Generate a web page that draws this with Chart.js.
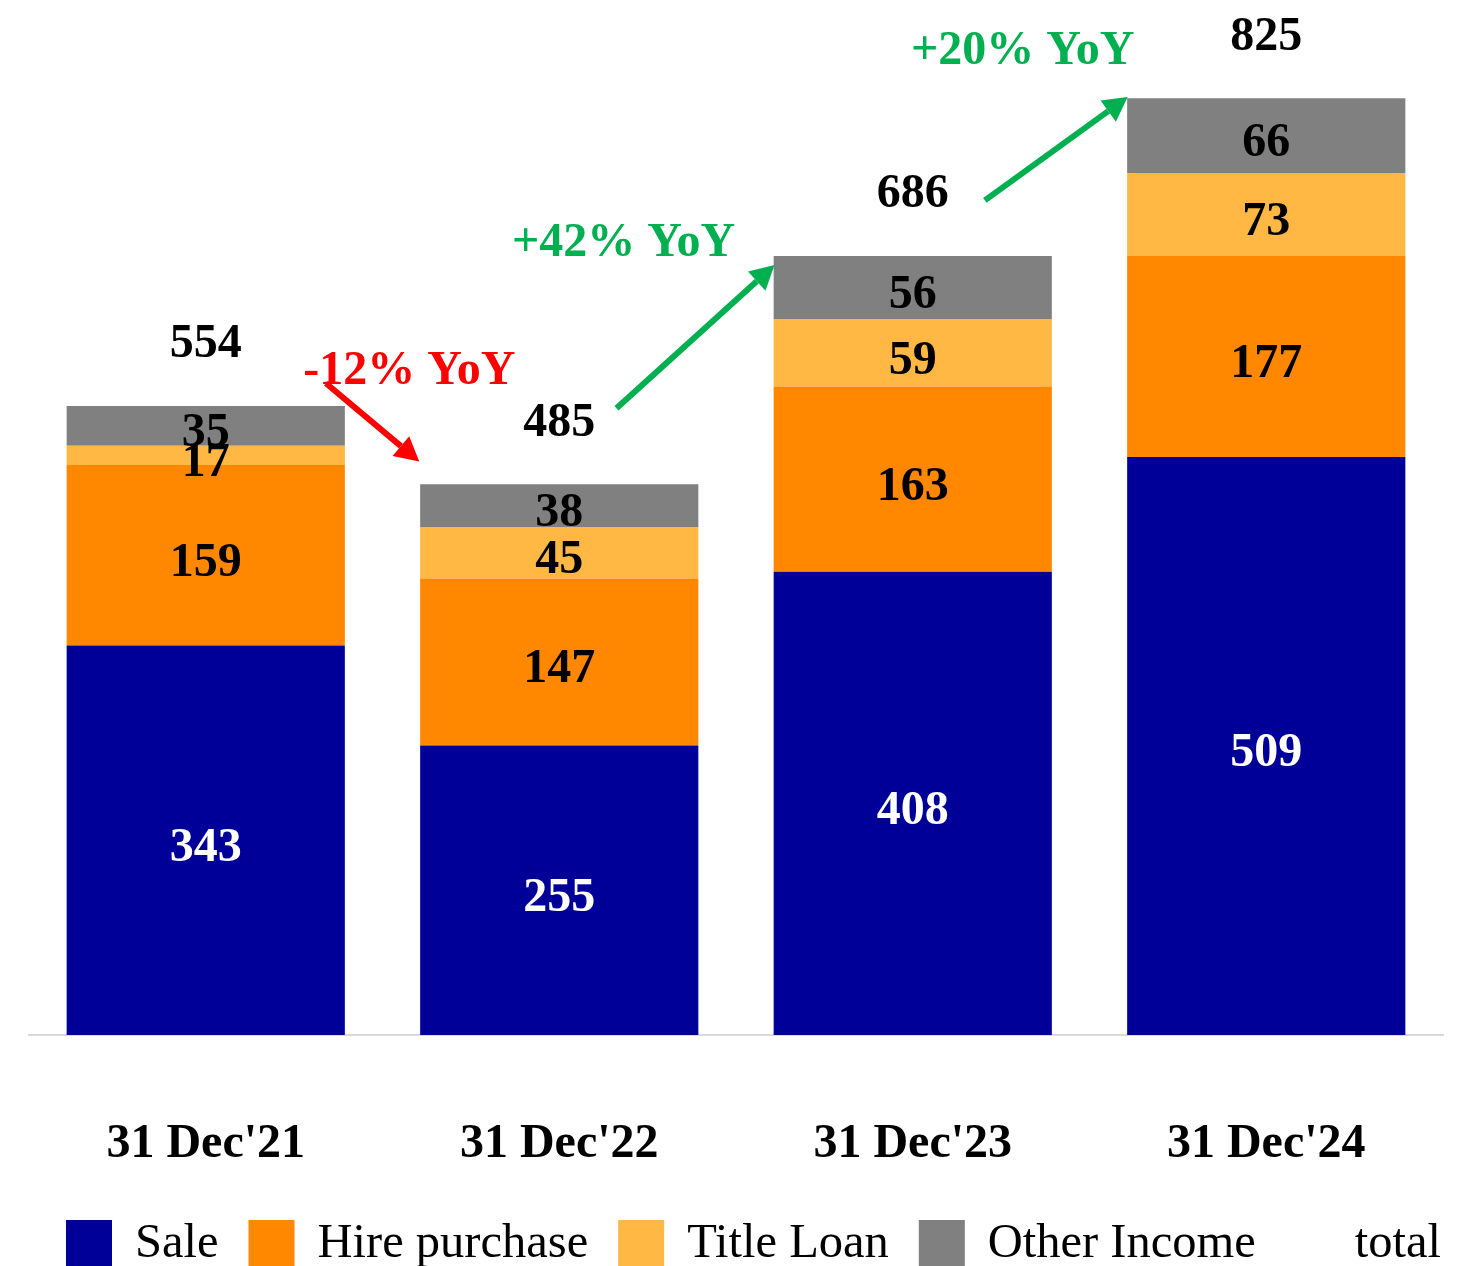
<!DOCTYPE html>
<html>
<head>
<meta charset="utf-8">
<title>Revenue by segment</title>
<script src="https://cdn.jsdelivr.net/npm/chart.js@4.4.1/dist/chart.umd.min.js"></script>
<style>
	html, body { margin: 0; padding: 0; background: #fff; }
	#wrap { width: 1471px; height: 1266px; }
</style>
</head>
<body>
<div id="wrap"><canvas id="graph-revenue" width="1471" height="1266"></canvas></div>
<script>
// ** DATA: ** //

var categories = ["31 Dec'21", "31 Dec'22", "31 Dec'23", "31 Dec'24"];
var sale = [343, 255, 408, 509];
var hirePurchase = [159, 147, 163, 177];
var titleLoan = [17, 45, 59, 73];
var otherIncome = [35, 38, 56, 66];

var seriesNames = ['Sale', 'Hire purchase', 'Title Loan', 'Other Income'];
var seriesColors = ['#000099', '#FF8800', '#FFB843', '#808080'];
var labelColors = ['#FFFFFF', '#000000', '#000000', '#000000'];

// growth callouts, points given as [category position, value]
var yoyText = ['-12% YoY', '+42% YoY', '+20% YoY'];
var yoyColors = ['#FF0000', '#00B050', '#00B050'];
var yoyTextAt = [[0.576, 584], [1.182, 697], [2.311, 866]];
var yoyFrom = [[0.34, 574], [1.162, 552], [2.204, 735]];
var yoyTo = [[0.604, 505], [1.609, 678], [2.608, 826]];

var FONT = "'Times New Roman', 'Liberation Serif', serif";

// ** FUNCTIONS: ** //

function getTotals() {
	var totals = [];
	for (var i = 0; i < categories.length; i++) {
		totals.push(sale[i] + hirePurchase[i] + titleLoan[i] + otherIncome[i]);
	}
	return totals;
}

function drawArrow(ctx, x1, y1, x2, y2, color) {
	var ang = Math.atan2(y2 - y1, x2 - x1);
	var head = 24, half = 13;
	var bx = x2 - head * Math.cos(ang);
	var by = y2 - head * Math.sin(ang);
	ctx.strokeStyle = color;
	ctx.fillStyle = color;
	ctx.lineWidth = 6;
	ctx.beginPath();
	ctx.moveTo(x1, y1);
	ctx.lineTo(bx, by);
	ctx.stroke();
	ctx.beginPath();
	ctx.moveTo(x2, y2);
	ctx.lineTo(bx + half * Math.sin(ang), by - half * Math.cos(ang));
	ctx.lineTo(bx - half * Math.sin(ang), by + half * Math.cos(ang));
	ctx.closePath();
	ctx.fill();
}

var segmentLabels = {
	id: 'segmentLabels',
	afterDatasetsDraw: function(chart) {
		var ctx = chart.ctx;
		var totals = getTotals();
		ctx.save();
		ctx.font = 'bold 48px ' + FONT;
		ctx.textAlign = 'center';
		ctx.textBaseline = 'middle';
		chart.data.datasets.forEach(function(ds, i) {
			var meta = chart.getDatasetMeta(i);
			meta.data.forEach(function(bar, j) {
				ctx.fillStyle = labelColors[i];
				ctx.fillText(ds.data[j], bar.x, (bar.y + bar.base) / 2 + 8);
			});
		});
		// totals sit above the stack
		var topMeta = chart.getDatasetMeta(chart.data.datasets.length - 1);
		ctx.fillStyle = '#000000';
		topMeta.data.forEach(function(bar, j) {
			ctx.fillText(totals[j], bar.x, bar.y - 61);
		});
		ctx.restore();
	}
};

var yoyArrows = {
	id: 'yoyArrows',
	afterDraw: function(chart) {
		var ctx = chart.ctx;
		var xs = chart.scales.x, ys = chart.scales.y;
		ctx.save();
		for (var i = 0; i < yoyText.length; i++) {
			drawArrow(ctx,
				xs.getPixelForValue(yoyFrom[i][0]), ys.getPixelForValue(yoyFrom[i][1]),
				xs.getPixelForValue(yoyTo[i][0]), ys.getPixelForValue(yoyTo[i][1]),
				yoyColors[i]);
		}
		ctx.font = 'bold 48px ' + FONT;
		ctx.textAlign = 'center';
		ctx.textBaseline = 'middle';
		for (var i = 0; i < yoyText.length; i++) {
			ctx.fillStyle = yoyColors[i];
			ctx.fillText(yoyText[i], xs.getPixelForValue(yoyTextAt[i][0]), ys.getPixelForValue(yoyTextAt[i][1]));
		}
		ctx.restore();
	}
};

// legend along the bottom; 'total' keeps its slot but has no swatch
var bottomLegend = {
	id: 'bottomLegend',
	afterDraw: function(chart) {
		var ctx = chart.ctx;
		var names = seriesNames.concat(['total']);
		var x = 66, boxTop = 1220, box = 46, baseline = 1257;
		ctx.save();
		ctx.font = '48.5px ' + FONT;
		ctx.textBaseline = 'alphabetic';
		ctx.textAlign = 'left';
		for (var i = 0; i < names.length; i++) {
			if (i < seriesColors.length) {
				ctx.fillStyle = seriesColors[i];
				ctx.fillRect(x, boxTop, box, box);
			}
			var tx = x + box + 23;
			ctx.fillStyle = '#000000';
			ctx.fillText(names[i], tx, baseline);
			x = tx + ctx.measureText(names[i]).width + 30;
		}
		ctx.restore();
	}
};

function generateData() {
	var series = [sale, hirePurchase, titleLoan, otherIncome];
	var datasets = [];
	for (var i = 0; i < series.length; i++) {
		datasets.push({
			label: seriesNames[i],
			data: series[i],
			backgroundColor: seriesColors[i],
			borderWidth: 0,
			barPercentage: 0.787,
			categoryPercentage: 1.0
		});
	}
	return { labels: categories, datasets: datasets };
}

function generateGraph(graphID, graphData) {
	var graph = document.getElementById(graphID);
	if (!graph) {
		return;
	}
	new Chart(graph, {
		type: 'bar',
		data: graphData,
		options: {
			responsive: false,
			animation: false,
			layout: { padding: { top: 13, left: 29, right: 28, bottom: 0 } },
			plugins: {
				legend: { display: false },
				tooltip: { enabled: false }
			},
			scales: {
				x: {
					stacked: true,
					grid: { display: false },
					border: { display: true, color: '#D9D9D9', width: 2 },
					ticks: {
						color: '#000000',
						padding: 73,
						font: { family: FONT, size: 48, weight: 'bold' }
					},
					afterFit: function(scale) { scale.height = 231; }
				},
				y: {
					stacked: true,
					display: false,
					min: 0,
					max: 900
				}
			}
		},
		plugins: [segmentLabels, yoyArrows, bottomLegend]
	});
}

// ** ENTRY POINT: ** //

generateGraph('graph-revenue', generateData());
</script>
</body>
</html>
